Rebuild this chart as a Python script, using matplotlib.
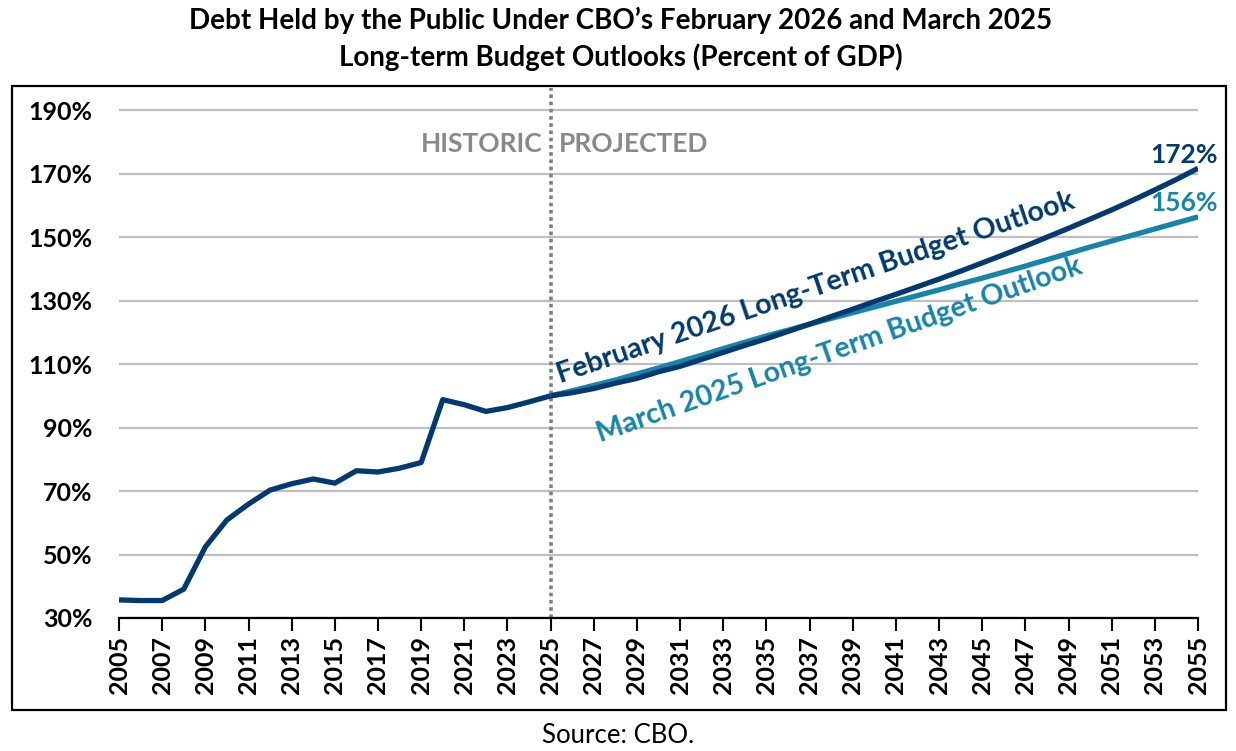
import matplotlib
matplotlib.use("Agg")
import matplotlib.pyplot as plt
from matplotlib.patches import Rectangle
from matplotlib.ticker import FuncFormatter

plt.rcParams["font.family"] = ["Lato", "DejaVu Sans"]

# Historic debt held by the public, percent of GDP
hist_years = list(range(2005, 2026))
hist_debt = [35.7, 35.5, 35.5, 39.1, 52.4, 60.9, 65.9, 70.3, 72.3, 73.8, 72.5,
             76.4, 76.0, 77.2, 79.0, 98.8, 97.2, 95.1, 96.3, 98.1, 100.0]

# Projections
proj_years = list(range(2025, 2056))
feb2026 = [100.0, 101.0, 102.3, 104.0, 105.5, 107.6, 109.3, 111.5, 113.7, 115.9,
           118.0, 120.3, 122.6, 125.0, 127.3, 129.7, 132.0, 134.4, 136.8, 139.3,
           141.9, 144.5, 147.2, 150.0, 152.8, 155.7, 158.6, 161.7, 164.9, 168.2,
           171.7]
mar2025 = [100.0, 101.6, 103.3, 105.0, 106.9, 108.8, 110.8, 112.8, 114.9, 116.9,
           118.9, 120.7, 122.6, 124.4, 126.2, 128.0, 129.8, 131.6, 133.4, 135.3,
           137.1, 139.0, 140.9, 142.9, 144.9, 146.9, 148.8, 150.7, 152.6, 154.5,
           156.4]

y_ticks = [30, 50, 70, 90, 110, 130, 150, 170, 190]
x_ticks = list(range(2005, 2056, 2))

NAVY = "#003a70"
TEAL = "#1784aa"
GRAY_TXT = "#898989"

fig = plt.figure(figsize=(12.36, 7.51), dpi=100)
ax = fig.add_axes([0.0963, 0.1771, 0.8730, 0.7057])

ax.plot(proj_years, mar2025, color=TEAL, lw=3.8, solid_capstyle="butt", zorder=3)
ax.plot(hist_years, hist_debt, color=NAVY, lw=3.8, solid_capstyle="butt", zorder=4)
ax.plot(proj_years, feb2026, color=NAVY, lw=3.8, solid_capstyle="butt", zorder=4)

ax.set_xlim(2005, 2055)
ax.set_ylim(30, 197)
ax.set_yticks(y_ticks)
ax.set_xticks(x_ticks)
ax.yaxis.set_major_formatter(FuncFormatter(lambda v, p: f"{v:.0f}%"))
ax.tick_params(axis="y", length=0, pad=19, labelsize=18)
ax.tick_params(axis="x", length=9, width=1.5, direction="out", labelsize=18,
               labelrotation=90, pad=4)
for lab in ax.get_xticklabels() + ax.get_yticklabels():
    lab.set_fontweight("bold")

ax.grid(axis="y", color="#bfbfbf", lw=1.6)
ax.set_axisbelow(True)
for s in ["top", "right", "left"]:
    ax.spines[s].set_visible(False)
ax.spines["bottom"].set_linewidth(1.6)
ax.spines["bottom"].set_zorder(5)

ax.axvline(2025, color="#808080", lw=2.6, ls=(0, (1, 1)), zorder=2)
ax.text(2024.6, 179.3, "HISTORIC", color=GRAY_TXT, fontsize=19, fontweight="bold",
        ha="right", va="center")
ax.text(2025.4, 179.3, "PROJECTED", color=GRAY_TXT, fontsize=19, fontweight="bold",
        ha="left", va="center")

ax.text(2037.3, 134.0, "February 2026 Long-Term Budget Outlook", color=NAVY,
        fontsize=20.5, fontweight="bold", rotation=18.8, rotation_mode="anchor",
        ha="center", va="center")
ax.text(2038.4, 114.5, "March 2025 Long-Term Budget Outlook", color=TEAL,
        fontsize=20.5, fontweight="bold", rotation=19.3, rotation_mode="anchor",
        ha="center", va="center")

ax.text(2055.9, 176.0, "172%", color=NAVY, fontsize=19, fontweight="bold",
        ha="right", va="center", clip_on=False)
ax.text(2055.9, 160.8, "156%", color=TEAL, fontsize=19, fontweight="bold",
        ha="right", va="center", clip_on=False)

fig.text(0.502, 0.973, "Debt Held by the Public Under CBO\u2019s February 2026 and March 2025",
         ha="center", va="center", fontsize=20, fontweight="bold")
fig.text(0.502, 0.924, "Long-term Budget Outlooks (Percent of GDP)",
         ha="center", va="center", fontsize=20, fontweight="bold")
fig.text(0.500, 0.0213, "Source: CBO.", ha="center", va="center", fontsize=18.5)

fig.patches.append(Rectangle((12 / 1236, 1 - 710 / 751), 1214 / 1236, 624 / 751,
                             transform=fig.transFigure, fill=False,
                             edgecolor="black", lw=1.6))

fig.savefig("out.png", dpi=100)
